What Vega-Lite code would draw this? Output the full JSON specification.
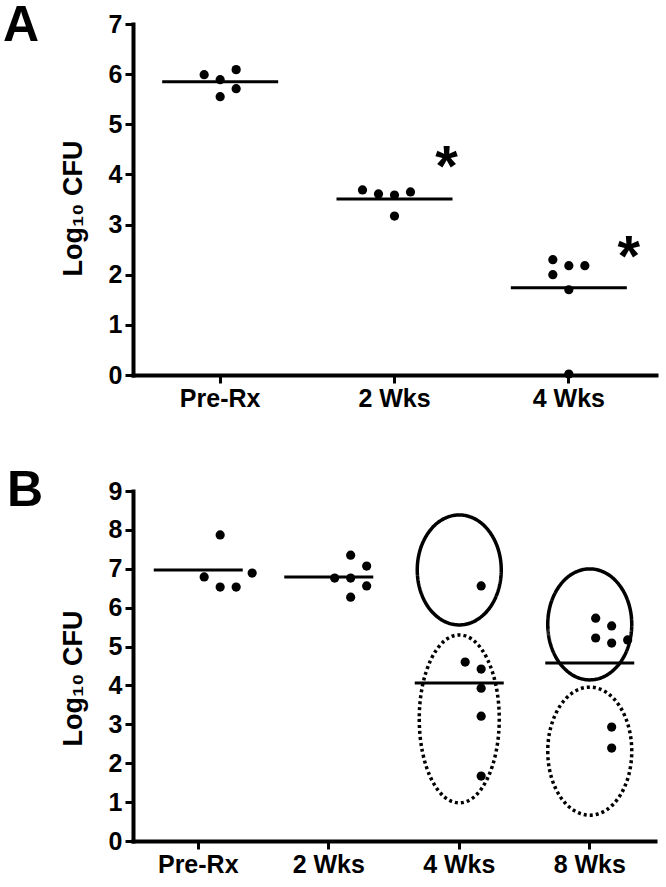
{
  "$schema": "https://vega.github.io/schema/vega-lite/v6.json",
  "background": "white",
  "padding": {"left": 3, "top": 1, "right": 5, "bottom": 0},
  "spacing": 55,
  "config": {
    "view": {"stroke": null},
    "font": "Liberation Sans",
    "axis": {
      "domainColor": "black", "domainWidth": 4, "domainCap": "square",
      "tickColor": "black", "tickWidth": 3, "tickSize": 8,
      "labelFont": "Liberation Sans", "labelFontWeight": "bold", "labelFontSize": 25, "labelColor": "black", "labelPadding": 3,
      "titleFont": "Liberation Sans", "titleFontWeight": "bold", "titleFontSize": 27, "titleColor": "black",
      "grid": false
    }
  },
  "datasets": {
    "a_pts": [
      {"time": "Pre-Rx", "col": -1, "cfu": 5.99},
      {"time": "Pre-Rx", "col": 0, "cfu": 5.89},
      {"time": "Pre-Rx", "col": 1, "cfu": 6.09},
      {"time": "Pre-Rx", "col": 1, "cfu": 5.71},
      {"time": "Pre-Rx", "col": 0, "cfu": 5.55},
      {"time": "2 Wks", "col": -2, "cfu": 3.69},
      {"time": "2 Wks", "col": -1, "cfu": 3.61},
      {"time": "2 Wks", "col": 0, "cfu": 3.59},
      {"time": "2 Wks", "col": 1, "cfu": 3.65},
      {"time": "2 Wks", "col": 0, "cfu": 3.17},
      {"time": "4 Wks", "col": -1, "cfu": 2.30},
      {"time": "4 Wks", "col": 0, "cfu": 2.18},
      {"time": "4 Wks", "col": 1, "cfu": 2.18},
      {"time": "4 Wks", "col": -1, "cfu": 2.00},
      {"time": "4 Wks", "col": 0, "cfu": 1.70},
      {"time": "4 Wks", "col": 0, "cfu": 0.02}
    ],
    "a_med": [
      {"time": "Pre-Rx", "cfu": 5.85},
      {"time": "2 Wks", "cfu": 3.51},
      {"time": "4 Wks", "cfu": 1.74}
    ],
    "a_star": [
      {"time": "2 Wks", "col": 3.25, "cfu": 4.29},
      {"time": "4 Wks", "col": 3.75, "cfu": 2.50}
    ],
    "b_pts": [
      {"time": "Pre-Rx", "col": 0, "cfu": 7.87},
      {"time": "Pre-Rx", "col": -1, "cfu": 6.79},
      {"time": "Pre-Rx", "col": 0, "cfu": 6.53},
      {"time": "Pre-Rx", "col": 1, "cfu": 6.53},
      {"time": "Pre-Rx", "col": 2, "cfu": 6.89},
      {"time": "2 Wks", "col": 0, "cfu": 7.35},
      {"time": "2 Wks", "col": -1, "cfu": 6.76},
      {"time": "2 Wks", "col": 0, "cfu": 6.76},
      {"time": "2 Wks", "col": 1, "cfu": 7.07},
      {"time": "2 Wks", "col": 1, "cfu": 6.56},
      {"time": "2 Wks", "col": 0, "cfu": 6.27},
      {"time": "4 Wks", "col": 0, "cfu": 6.56},
      {"time": "4 Wks", "col": -1, "cfu": 4.60},
      {"time": "4 Wks", "col": 0, "cfu": 4.42},
      {"time": "4 Wks", "col": 0, "cfu": 3.93},
      {"time": "4 Wks", "col": 0, "cfu": 3.21},
      {"time": "4 Wks", "col": 0, "cfu": 1.67},
      {"time": "8 Wks", "col": -1, "cfu": 5.73},
      {"time": "8 Wks", "col": 0, "cfu": 5.53},
      {"time": "8 Wks", "col": -1, "cfu": 5.22},
      {"time": "8 Wks", "col": 0, "cfu": 5.09},
      {"time": "8 Wks", "col": 1, "cfu": 5.17},
      {"time": "8 Wks", "col": 0, "cfu": 2.93},
      {"time": "8 Wks", "col": 0, "cfu": 2.39}
    ],
    "b_med": [
      {"time": "Pre-Rx", "cfu": 6.97},
      {"time": "2 Wks", "cfu": 6.79},
      {"time": "4 Wks", "cfu": 4.06},
      {"time": "8 Wks", "cfu": 4.58}
    ],
    "b_ell": [
      {"time": "4 Wks", "ring": "4w_top", "line": "solid", "cfu": 6.97},
      {"time": "4 Wks", "ring": "4w_bot", "line": "dotted", "cfu": 3.14},
      {"time": "8 Wks", "ring": "8w_top", "line": "solid", "cfu": 5.57},
      {"time": "8 Wks", "ring": "8w_bot", "line": "dotted", "cfu": 2.31}
    ]
  },
  "vconcat": [
    {
      "width": 523,
      "height": 351,
      "title": {"text": "A", "anchor": "start", "frame": "group", "fontSize": 50, "fontWeight": "bold", "font": "Liberation Sans", "color": "black", "dx": -130, "dy": 52, "offset": -27, "baseline": "alphabetic"},
      "encoding": {
        "x": {"field": "time", "type": "nominal", "sort": ["Pre-Rx", "2 Wks", "4 Wks"], "scale": {"domain": ["Pre-Rx", "2 Wks", "4 Wks"], "paddingInner": 0, "paddingOuter": 0}, "axis": {"title": null, "labelAngle": 0}},
        "y": {"field": "cfu", "type": "quantitative", "scale": {"domain": [0, 7], "nice": false}, "axis": {"title": "Log₁₀ CFU", "values": [0, 1, 2, 3, 4, 5, 6, 7], "titlePadding": 21, "titleY": 184}}
      },
      "layer": [
        {
          "data": {"name": "a_med"},
          "mark": {"type": "tick", "color": "black", "size": 116, "thickness": 3, "opacity": 1}
        },
        {
          "data": {"name": "a_pts"},
          "mark": {"type": "point", "filled": true, "shape": "circle", "size": 85, "color": "black", "opacity": 1, "strokeWidth": 0},
          "encoding": {"xOffset": {"field": "col", "type": "quantitative", "scale": {"domain": [-5.45, 5.45]}}}
        },
        {
          "data": {"name": "a_star"},
          "mark": {"type": "text", "text": "*", "fontSize": 58, "fontWeight": "bold", "font": "Liberation Sans", "color": "black", "baseline": "middle", "align": "center", "dy": 9},
          "encoding": {"xOffset": {"field": "col", "type": "quantitative", "scale": {"domain": [-5.45, 5.45]}}}
        }
      ]
    },
    {
      "width": 522,
      "height": 350,
      "title": {"text": "B", "anchor": "start", "frame": "group", "fontSize": 50, "fontWeight": "bold", "font": "Liberation Sans", "color": "black", "dx": -126, "dy": 50, "offset": -27, "baseline": "alphabetic"},
      "encoding": {
        "x": {"field": "time", "type": "nominal", "sort": ["Pre-Rx", "2 Wks", "4 Wks", "8 Wks"], "scale": {"domain": ["Pre-Rx", "2 Wks", "4 Wks", "8 Wks"], "paddingInner": 0, "paddingOuter": 0}, "axis": {"title": null, "labelAngle": 0}},
        "y": {"field": "cfu", "type": "quantitative", "scale": {"domain": [0, 9], "nice": false}, "axis": {"title": "Log₁₀ CFU", "values": [0, 1, 2, 3, 4, 5, 6, 7, 8, 9], "titlePadding": 21, "titleY": 187}}
      },
      "layer": [
        {
          "data": {"name": "b_ell"},
          "mark": {"type": "point", "filled": false, "size": 10000, "strokeWidth": 3.5, "color": "black", "opacity": 1},
          "encoding": {
            "shape": {"field": "ring", "type": "nominal", "legend": null, "scale": {"domain": ["4w_top", "4w_bot", "8w_top", "8w_bot"], "range": [
              "M-0.84,0A0.84,1.1,0,1,0,0.84,0A0.84,1.1,0,1,0,-0.84,0Z",
              "M-0.8,0A0.8,1.68,0,1,0,0.8,0A0.8,1.68,0,1,0,-0.8,0Z",
              "M-0.84,0A0.84,1.11,0,1,0,0.84,0A0.84,1.11,0,1,0,-0.84,0Z",
              "M-0.84,0A0.84,1.28,0,1,0,0.84,0A0.84,1.28,0,1,0,-0.84,0Z"
            ]}},
            "strokeDash": {"field": "line", "type": "nominal", "legend": null, "scale": {"domain": ["solid", "dotted"], "range": [[1, 0], [3, 3]]}}
          }
        },
        {
          "data": {"name": "b_med"},
          "mark": {"type": "tick", "color": "black", "size": 89, "thickness": 3, "opacity": 1}
        },
        {
          "data": {"name": "b_pts"},
          "mark": {"type": "point", "filled": true, "shape": "circle", "size": 85, "color": "black", "opacity": 1, "strokeWidth": 0},
          "encoding": {"xOffset": {"field": "col", "type": "quantitative", "scale": {"domain": [-4.155, 4.155]}}}
        }
      ]
    }
  ]
}
